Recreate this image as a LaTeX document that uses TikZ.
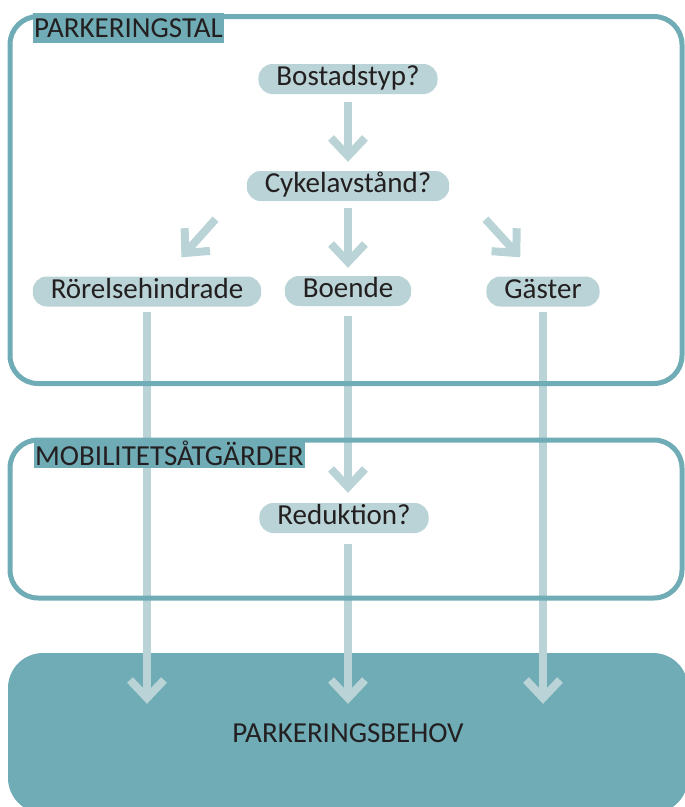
\documentclass[tikz,border=0pt]{standalone}
\usepackage{fontspec}
\setmainfont{Carlito}
\usepackage{tikz}
\usetikzlibrary{positioning, arrows.meta}

\definecolor{teal}{RGB}{111,172,182}
\definecolor{pale}{RGB}{185,211,214}
\definecolor{ink}{RGB}{35,31,32}

\tikzset{
  frame/.style={draw=teal, line width=5pt, rounded corners=28pt},
  head/.style={fill=teal, text=ink, anchor=north west, inner xsep=1pt, inner ysep=0pt,
    minimum height=30pt, font=\fontsize{29}{31}\selectfont},
  pill/.style={fill=pale, text=ink, rounded corners=14pt, minimum height=30pt,
    inner xsep=18pt, inner ysep=0pt, text height=19pt, text depth=6pt,
    font=\fontsize{29}{31}\selectfont},
  flow/.style={draw=pale, line width=8pt, -{Straight Barb[length=18pt, width=34pt, sharp]}}
}

\begin{document}
\begin{tikzpicture}[x=1pt, y=-1pt]
        \useasboundingbox (0,0) rectangle (685,807);
        \clip (0,0) rectangle (685,807);
        % Result box
        \node[fill=teal, text=ink, rounded corners=35pt, minimum width=680pt, minimum height=160pt,
          font=\fontsize{29}{31}\selectfont] (behov) at (348,733) {PARKERINGSBEHOV};
        % Questions and groups
        \node[pill] (bostadstyp) at (348,79) {Bostadstyp?};
        \node[pill] (cykel) at (348,186) {Cykelavstånd?};
        \node[pill] (rorelse) at (147,291.5) {Rörelsehindrade};
        \node[pill] (boende) at (348,291) {Boende};
        \node[pill] (gaster) at (543,291.5) {Gäster};
        \node[pill] (reduktion) at (344,518) {Reduktion?};
        \coordinate (drop) at ([shift={(0,51)}]behov.north);
        % Arrows
        \draw[flow, shorten <=8pt, shorten >=9pt] (bostadstyp.south) -- (cykel.north);
        \draw[flow, shorten <=7pt, shorten >=8pt] (cykel.south) -- (boende.north);
        \draw[flow] ([shift={(-31,18)}]cykel.south west) -- ([shift={(-80,-19)}]rorelse.north east);
        \draw[flow] ([shift={(36,18)}]cykel.south east) -- ([shift={(34,-19)}]gaster.north west);
        \draw[flow, shorten <=10pt, shorten >=10pt] (boende.south) -- (boende.south |- reduktion.north);
        \draw[flow, shorten <=5pt] (rorelse.south) -- (rorelse.south |- drop);
        \draw[flow, shorten <=11pt] (boende.south |- reduktion.south) -- (boende.south |- drop);
        \draw[flow, shorten <=5pt] (gaster.south) -- (gaster.south |- drop);
        % Frames and headers
        \draw[frame] (10,16.5) rectangle (682,383.5);
        \draw[frame] (10,440) rectangle (682,598);
        \node[head] (parkhead) at (33,13) {PARKERINGSTAL};
        \node[head] (mobhead) at (34,438) {MOBILITETSÅTGÄRDER};
\end{tikzpicture}
\end{document}
